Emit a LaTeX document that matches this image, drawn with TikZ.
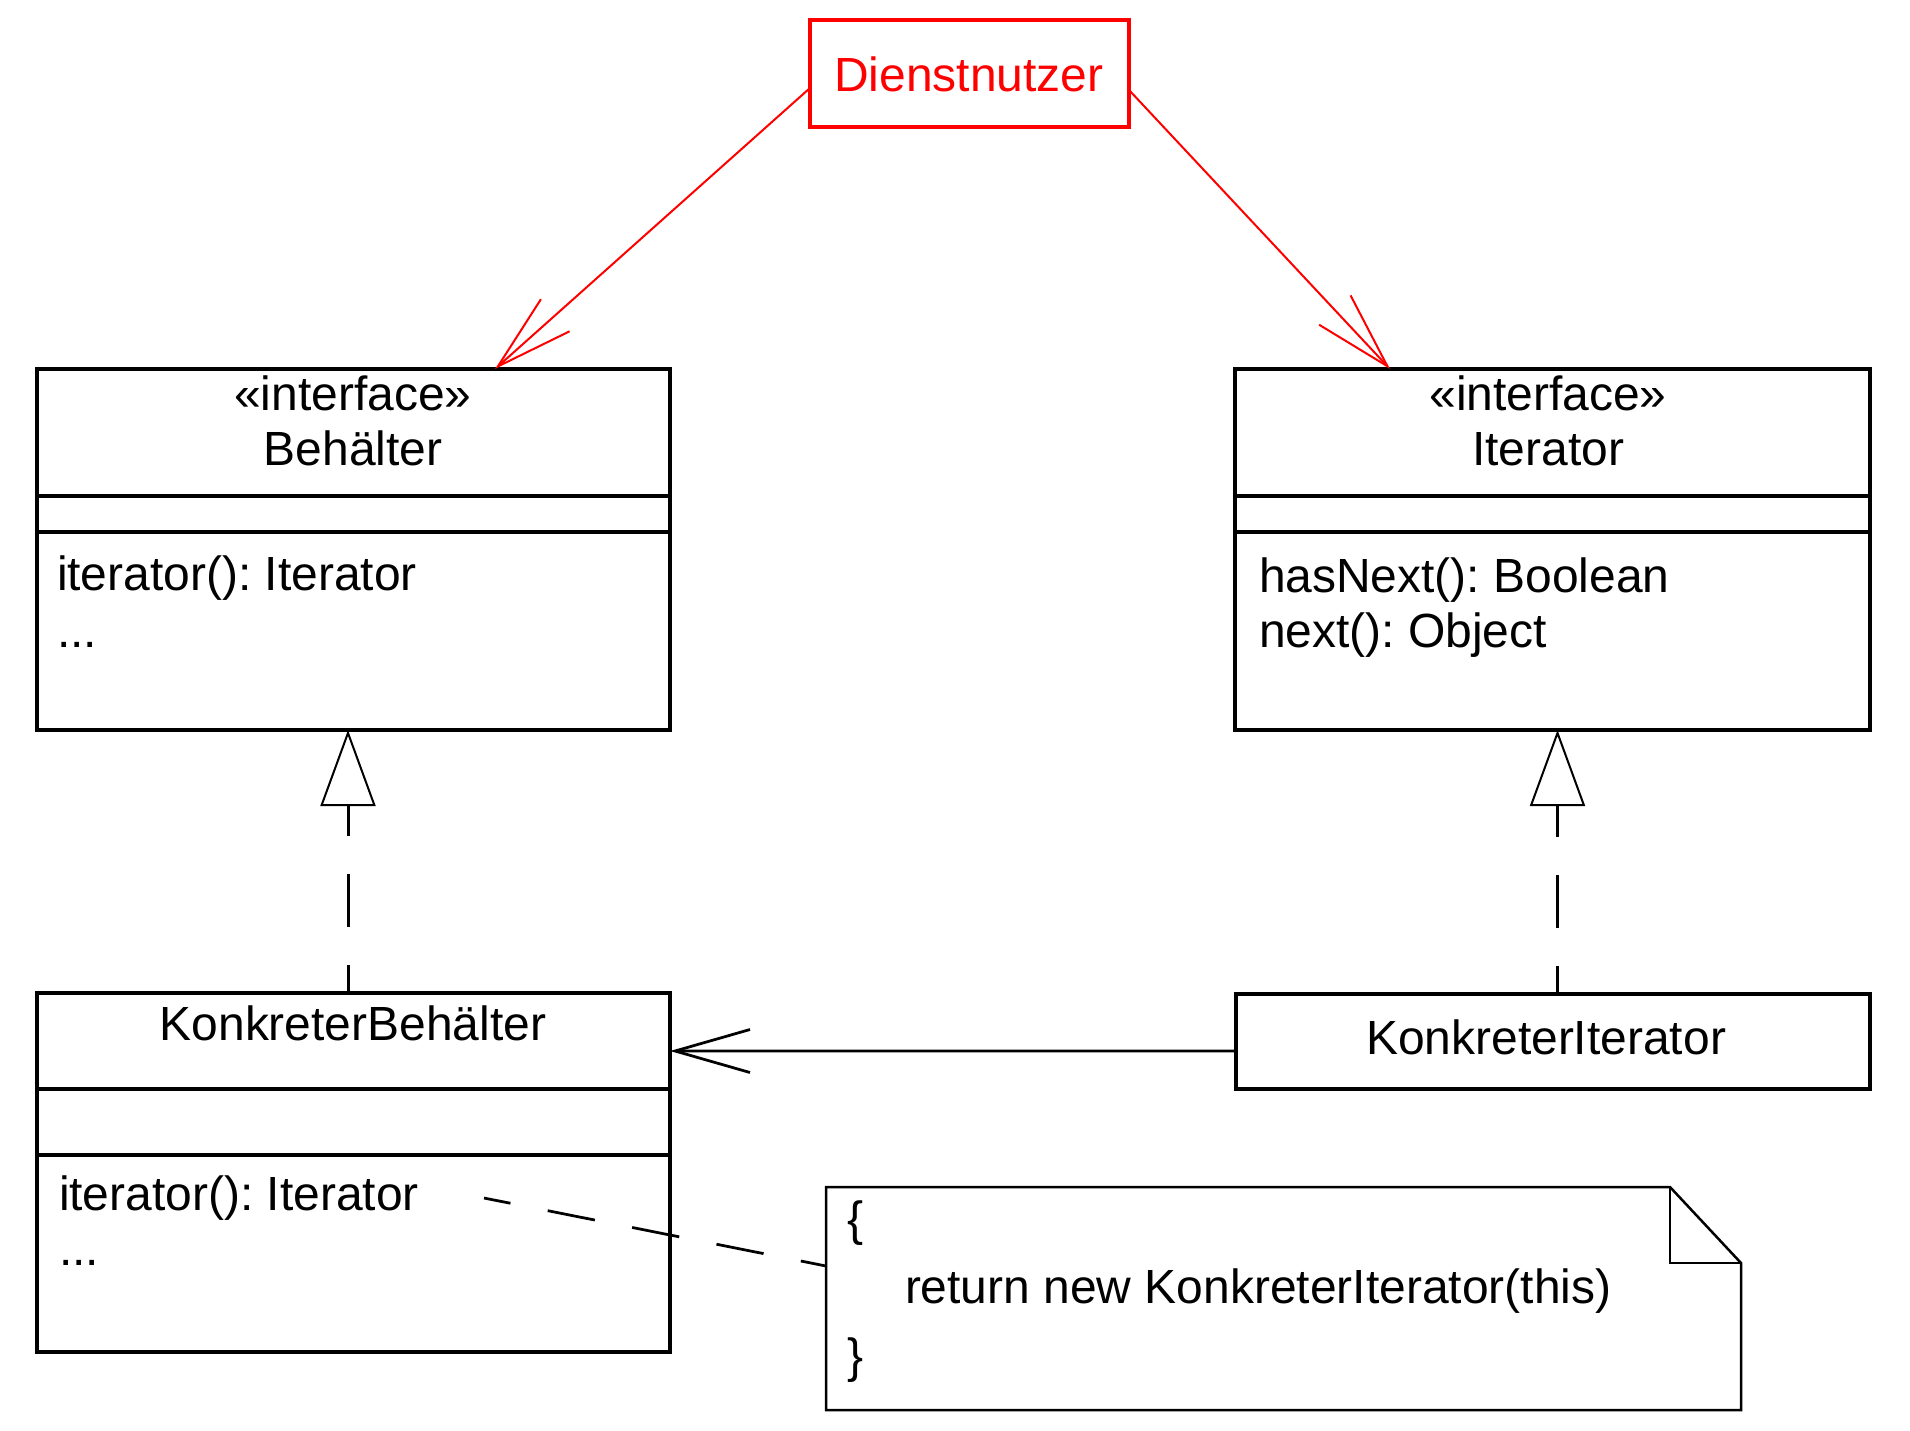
\documentclass[tikz,border=0pt]{standalone}
\usepackage{fontspec}
\setmainfont{Liberation Sans}
\usetikzlibrary{arrows.meta}
\definecolor{dnred}{RGB}{255,0,0}
\frenchspacing
\begin{document}
\begin{tikzpicture}[x=0.2mm,y=-0.2mm,
  box/.style={draw=black, line width=0.8mm, rectangle, inner sep=0pt, outer sep=0pt},
  txt/.style={inner sep=0pt, outer sep=0pt, font=\fontsize{27.3}{32}\selectfont\frenchspacing},
  sepline/.style={line width=0.75mm},
  use/.style={draw=dnred, line width=0.4mm, -{Straight Barb[length=15.4mm,width=8.6mm]}},
  assoc/.style={line width=0.55mm, -{Straight Barb[length=15mm,width=8.6mm]}},
  realize/.style={line width=0.6mm, dash pattern=on 10.6mm off 7.6mm, dash phase=5mm,
    -{Triangle[open,length=15.2mm,width=11mm,line width=0.4mm]}},
  anchorline/.style={line width=0.55mm, dash pattern=on 9.6mm off 7.6mm, dash phase=4.2mm},
]
\useasboundingbox (0,0) rectangle (1910,1430);

% Dienstnutzer
\node[box, draw=dnred, minimum width=63.8mm, minimum height=21.4mm] (dn) at (969.5,73.5) {};
\node[txt, anchor=base, text=dnred] (dntext) at (969,91) {Dienstnutzer};

% Behaelter
\node[box, minimum width=126.6mm, minimum height=72.2mm] (beh) at (353.5,549.5) {};
\draw[sepline] (37,496) -- (670,496);
\draw[sepline] (37,532) -- (670,532);
\node[txt, anchor=base] (behst) at (353,410) {«interface»};
\node[txt, anchor=base] (behname) at (353,465) {Behälter};
\node[txt, anchor=base west] (behop1) at (57,590) {iterator(): Iterator};
\node[txt, anchor=base west] (behop2) at (57,647) {...};

% Iterator
\node[box, minimum width=127mm, minimum height=72.2mm] (it) at (1552.5,549.5) {};
\draw[sepline] (1235,496) -- (1870,496);
\draw[sepline] (1235,532) -- (1870,532);
\node[txt, anchor=base] (itst) at (1548,410) {«interface»};
\node[txt, anchor=base] (itname) at (1548,465) {Iterator};
\node[txt, anchor=base west] (itop1) at (1259,592) {hasNext(): Boolean};
\node[txt, anchor=base west] (itop2) at (1259,647) {next(): Object};

% KonkreterBehaelter
\node[box, minimum width=126.6mm, minimum height=71.8mm] (kb) at (353.5,1172.5) {};
\draw[sepline] (37,1089) -- (670,1089);
\draw[sepline] (37,1155) -- (670,1155);
\node[txt, anchor=base] (kbname) at (353,1040) {KonkreterBehälter};
\node[txt, anchor=base west] (kbop1) at (59,1210) {iterator(): Iterator};
\node[txt, anchor=base west] (kbop2) at (59,1265) {...};

% KonkreterIterator
\node[box, minimum width=126.8mm, minimum height=19mm] (ki) at (1553,1041.5) {};
\node[txt, anchor=base] (kiname) at (1546,1054) {KonkreterIterator};

% Note
\node[inner sep=0pt, outer sep=0pt, minimum width=183mm, minimum height=44.6mm] (note) at (1283.5,1298.5) {};
\draw[line width=0.5mm] (note.north west) -- (1670,1187) -- (1741,1263) -- (note.south east) -- (note.south west) -- cycle;
\draw[line width=0.5mm] (1670,1187) -- (1670,1263) -- (1741,1263);
\node[txt, anchor=base west] (nb1) at (847,1235) {\{};
\node[txt, anchor=base west] (nb2) at (905,1303) {return new KonkreterIterator(this)};
\node[txt, anchor=base west] (nb3) at (847,1372) {\}};

% connectors
\draw[use] ([yshift=-2.9mm]dn.west) -- ([xshift=28.3mm]beh.north);
\draw[use] ([yshift=-3.3mm]dn.east) -- ([xshift=-32.5mm]it.north);
\draw[assoc] ([yshift=-1.9mm]ki.west) -- ([yshift=24.3mm]kb.east);
\draw[realize] ([xshift=-1.1mm]kb.north) -- ([xshift=-1.1mm]beh.south);
\draw[realize] ([xshift=0.9mm]ki.north) -- ([xshift=1mm]it.south);
\coordinate (noteanchor) at (484,1198);
\draw[anchorline] (noteanchor) -- ([yshift=6.5mm]note.west);
\end{tikzpicture}
\end{document}
